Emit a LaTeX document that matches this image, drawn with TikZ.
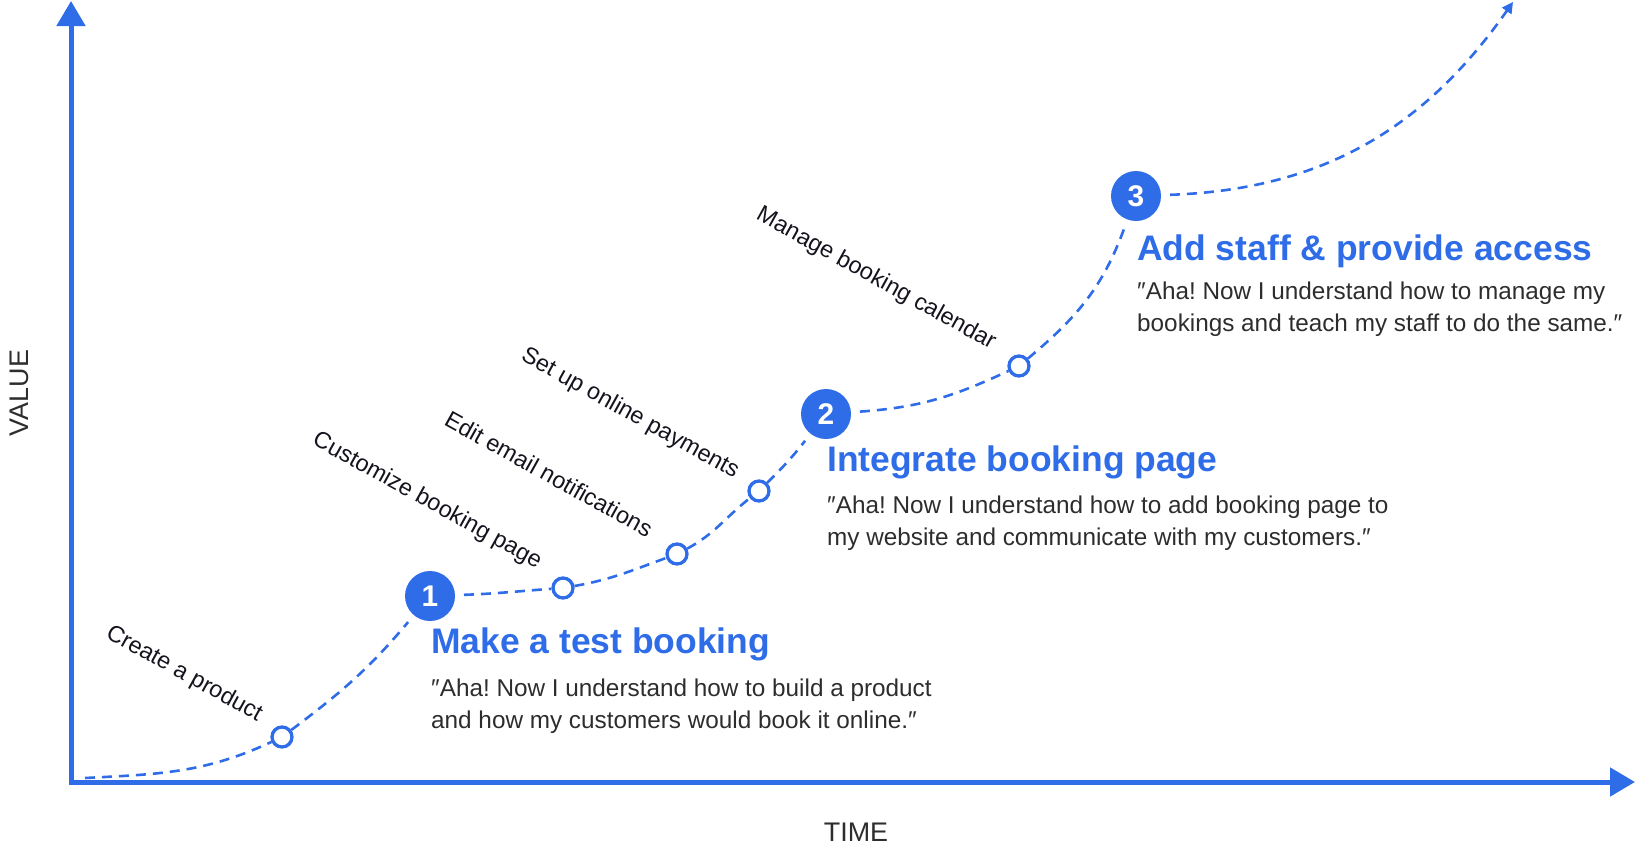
\documentclass[tikz,border=0pt]{standalone}
\usepackage{fontspec}
\setmainfont{Liberation Sans}
\usetikzlibrary{arrows.meta}
\definecolor{brand}{RGB}{47,108,232}
\definecolor{ink}{RGB}{45,45,45}
\definecolor{lbl}{RGB}{20,20,30}
\frenchspacing
\begin{document}
\begin{tikzpicture}[x=1bp,y=-1bp,
  axis/.style={draw=brand, line width=5bp, line join=miter,
    arrows={Triangle[width=28bp,length=25bp]-Triangle[width=28bp,length=25bp]}},
  pathline/.style={draw=brand, line width=2.6bp, dash pattern=on 10bp off 7bp},
  milestone/.style={circle, fill=brand, minimum size=50bp, inner sep=0pt, outer sep=9bp,
    text=white, font=\fontsize{30}{30}\selectfont\bfseries},
  stepdot/.style={circle, draw=brand, line width=3.3bp, fill=white, minimum size=20bp, inner sep=0pt},
  steplabel/.style={rotate=-29, font=\fontsize{23.5}{23.5}\selectfont, text=lbl, inner sep=0pt},
  titletext/.style={anchor=base west, inner sep=0pt, text=brand, font=\fontsize{35.6}{35.6}\selectfont\bfseries},
  quotetext/.style={anchor=north west, inner sep=0pt, text=ink, align=left, font=\fontsize{24.4}{32}\selectfont},
  axislabel/.style={text=ink, font=\fontsize{27}{27}\selectfont, inner sep=0pt}
]
\useasboundingbox (0,0) rectangle (1636,853);

% axes
\coordinate (ytip) at (71,1);
\coordinate (origin) at (71,782);
\coordinate (xtip) at (1635,782);
\draw[axis] (ytip) -- (origin) -- (xtip);
\node[axislabel, rotate=90] (vl) at (19,393) {VALUE};
\node[axislabel] (tl) at (856,832) {TIME};

% milestones and steps
\coordinate (start) at (85,778);
\coordinate (tip) at (1513,2);
\node[stepdot] (s1) at (282,737) {};
\node[milestone] (m1) at (430,596) {1};
\node[stepdot] (s2) at (563,588) {};
\node[stepdot] (s3) at (677,554) {};
\node[stepdot] (s4) at (759,491) {};
\node[milestone] (m2) at (826,414) {2};
\node[stepdot] (s5) at (1019,366) {};
\node[milestone] (m3) at (1136,196) {3};

% dashed growth curve
\draw[pathline] (start) to[out=3,in=205] (s1);
\draw[pathline] (s1) to[out=37,in=230] (m1);
\draw[pathline] (m1) to[out=2,in=184] (s2);
\draw[pathline] (s2) to[out=10,in=200] (s3);
\draw[pathline] (s3) to[out=28,in=218] (s4);
\draw[pathline] (s4) to[out=45,in=232] (m2);
\draw[pathline] (m2) to[out=4,in=205] (s5);
\draw[pathline] (s5) to[out=40,in=250] (m3);
\draw[pathline, -{Triangle[width=11bp,length=11bp]}] (m3) to[out=2,in=235] (tip);

% step labels
\node[steplabel] (l1) at (184,674) {Create a product};
\node[steplabel] (l2) at (427,501) {Customize booking page};
\node[steplabel] (l3) at (549,474) {Edit email notifications};
\node[steplabel] (l4) at (630,414) {Set up online payments};
\node[steplabel] (l5) at (876,279) {Manage booking calendar};

% milestone texts
\node[titletext] (t1) at (431,653) {Make a test booking};
\node[quotetext] (q1) at (431,679) {″Aha! Now I understand how to build a product\\and how my customers would book it online.″};
\node[titletext] (t2) at (827,471) {Integrate booking page};
\node[quotetext] (q2) at (827,496) {″Aha! Now I understand how to add booking page to\\my website and communicate with my customers.″};
\node[titletext] (t3) at (1137,260) {Add staff \& provide access};
\node[quotetext] (q3) at (1137,282) {″Aha! Now I understand how to manage my\\bookings and teach my staff to do the same.″};
\end{tikzpicture}
\end{document}
